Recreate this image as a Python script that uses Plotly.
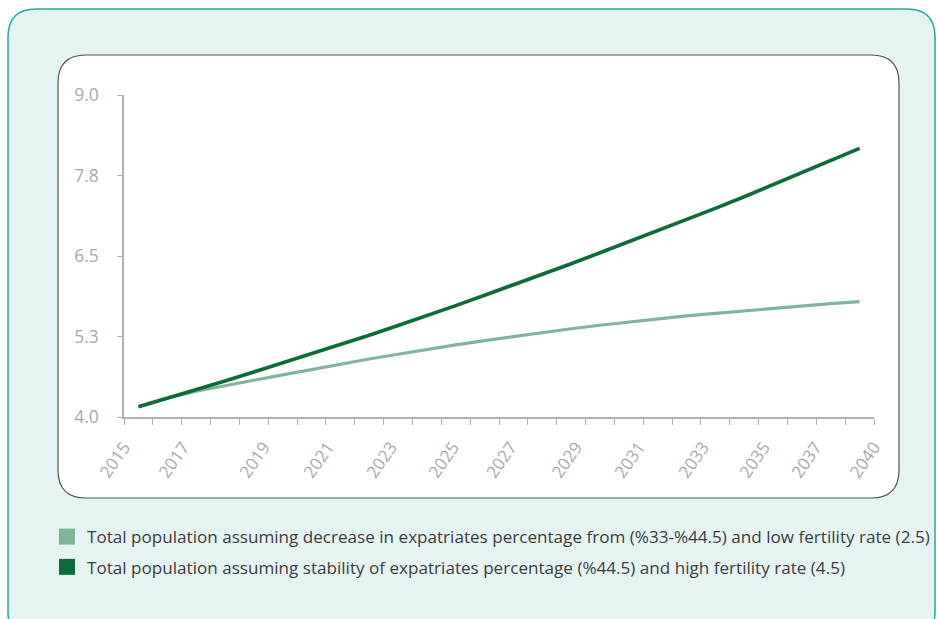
import plotly.graph_objects as go

# ---- data ----
years = list(range(2015, 2041))
low_scenario = [4.16, 4.29, 4.40, 4.49, 4.57, 4.655, 4.74, 4.82, 4.90, 4.975,
                5.05, 5.12, 5.185, 5.25, 5.31, 5.37, 5.425, 5.475, 5.525, 5.57,
                5.61, 5.65, 5.69, 5.725, 5.76, 5.79]
high_scenario = [4.16, 4.29, 4.42, 4.56, 4.70, 4.84, 4.98, 5.12, 5.27, 5.42,
                 5.57, 5.73, 5.89, 6.05, 6.21, 6.38, 6.55, 6.72, 6.89, 7.06,
                 7.24, 7.42, 7.61, 7.79, 7.98, 8.17]
series_names = [
    "Total population assuming decrease in expatriates percentage from (%33-%44.5) and low fertility rate (2.5)",
    "Total population assuming stability of expatriates percentage (%44.5) and high fertility rate (4.5)",
]
x_tick_labels = ["2015", "2017", "2019", "2021", "2023", "2025", "2027",
                 "2029", "2031", "2033", "2035", "2037", "2040"]
y_tick_values = [4.0, 5.25, 6.5, 7.75, 9.0]
y_tick_labels = ["4.0", "5.3", "6.5", "7.8", "9.0"]

# ---- layout constants (positions of the irregular Excel labels) ----
x_label_pos = [2014.5, 2016.55, 2019.35, 2021.57, 2023.75, 2025.9, 2027.9,
               2030.17, 2032.35, 2034.57, 2036.68, 2038.48, 2040.5]

LIGHT = "#80b59b"
DARK = "#0d6a39"
AXIS = "#b0b0b0"
TICKFONT = "#a8a8a8"

W, H = 938, 619
ML, MR, MT, MB = 124, 64, 95, 202
PW, PH = W - ML - MR, H - MT - MB


def px(x):
    return (x - ML) / PW


def py(y):
    return (H - MB - y) / PH


def rrect(x0, y0, x1, y1, r):
    return (f"M {px(x0+r)},{py(y0)} L {px(x1-r)},{py(y0)} "
            f"Q {px(x1)},{py(y0)} {px(x1)},{py(y0+r)} "
            f"L {px(x1)},{py(y1-r)} Q {px(x1)},{py(y1)} {px(x1-r)},{py(y1)} "
            f"L {px(x0+r)},{py(y1)} Q {px(x0)},{py(y1)} {px(x0)},{py(y1-r)} "
            f"L {px(x0)},{py(y0+r)} Q {px(x0)},{py(y0)} {px(x0+r)},{py(y0)} Z")


fig = go.Figure()
fig.add_trace(go.Scatter(x=years, y=low_scenario, mode="lines",
                         line=dict(color=LIGHT, width=3.2), showlegend=False,
                         name=series_names[0]))
fig.add_trace(go.Scatter(x=years, y=high_scenario, mode="lines",
                         line=dict(color=DARK, width=3.6), showlegend=False,
                         name=series_names[1]))
# legend entries (square swatches)
for nm, col, grp in [(series_names[0], LIGHT, "a"), (series_names[1], DARK, "b")]:
    fig.add_trace(go.Scatter(x=[None], y=[None], mode="markers", name=nm,
                             legendgroup=grp,
                             marker=dict(symbol="square", size=16, color=col)))
# invisible trace on xaxis2 for the labels
fig.add_trace(go.Scatter(x=[years[0]], y=[low_scenario[0]], xaxis="x2",
                         mode="markers", marker=dict(opacity=0),
                         showlegend=False, hoverinfo="skip"))

fig.update_layout(
    width=W, height=H,
    margin=dict(l=ML, r=MR, t=MT, b=MB),
    paper_bgcolor="white",
    plot_bgcolor="rgba(0,0,0,0)",
    font=dict(family="Open Sans, sans-serif"),
    xaxis=dict(range=[2014.5, 2040.5], tickmode="linear", tick0=2014.5, dtick=1,
               showticklabels=False, ticks="outside", ticklen=6,
               tickcolor=AXIS, showline=True, linecolor=AXIS, linewidth=1.5,
               showgrid=False, zeroline=False),
    xaxis2=dict(range=[2014.5, 2040.5], overlaying="x", anchor="y", side="bottom",
                tickmode="array", tickvals=x_label_pos, ticktext=x_tick_labels,
                tickangle=-55, ticks="", showline=False, showgrid=False,
                zeroline=False, ticklabelstandoff=16,
                tickfont=dict(size=17, color=TICKFONT)),
    yaxis=dict(range=[4.0, 9.0], tickmode="array", tickvals=y_tick_values,
               ticktext=y_tick_labels, ticks="outside", ticklen=5,
               tickcolor=AXIS, showline=True, linecolor=AXIS, linewidth=1.5,
               showgrid=False, zeroline=False, ticklabelstandoff=15,
               tickfont=dict(size=17.5, color=TICKFONT)),
    legend=dict(x=px(47), y=py(519), xanchor="left", yanchor="top",
                orientation="v", bgcolor="rgba(0,0,0,0)",
                font=dict(size=17.1, color="#3d3d3d"), tracegroupgap=5,
                itemclick=False),
    shapes=[
        dict(type="path", xref="paper", yref="paper", layer="below",
             path=rrect(8, 9, 935, 640, 28),
             fillcolor="#e5f3f2", line=dict(color="#22a99b", width=1.5)),
        dict(type="path", xref="paper", yref="paper", layer="below",
             path=rrect(58, 55, 899, 498, 28),
             fillcolor="white", line=dict(color="#555555", width=1.2)),
    ],
)

fig.write_html("out.html")
